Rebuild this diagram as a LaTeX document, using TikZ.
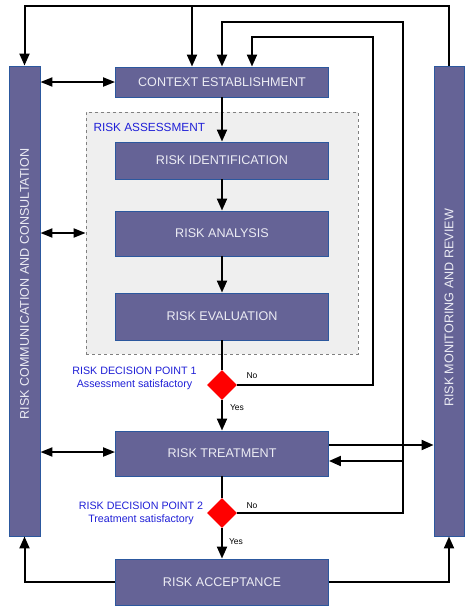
\documentclass[tikz,border=0pt]{standalone}
\usepackage{fontspec}
\setmainfont{Liberation Sans}
\usetikzlibrary{arrows.meta,shapes.geometric}
\definecolor{boxfill}{RGB}{101,99,150}
\definecolor{boxline}{RGB}{44,88,158}
\definecolor{boxtext}{RGB}{236,236,244}
\definecolor{lblue}{RGB}{32,32,215}
\definecolor{dashfill}{RGB}{239,239,239}
\definecolor{dashline}{RGB}{128,128,128}
\begin{document}
\begin{tikzpicture}[x=1pt,y=-1pt,
  box/.style={draw=boxline, fill=boxfill, line width=0.9pt, text=boxtext,
    font=\fontsize{12.6}{14}\selectfont, minimum width=213pt, inner sep=0pt},
  bar/.style={draw=boxline, fill=boxfill, line width=0.9pt, inner sep=0pt,
    minimum width=31pt, minimum height=470pt},
  bartext/.style={rotate=90, text=boxtext, font=\fontsize{12.6}{14}\selectfont},
  dec/.style={diamond, fill=red, draw=none, minimum width=30pt, minimum height=30pt, inner sep=0pt},
  lbl/.style={text=lblue, font=\fontsize{10.7}{12.5}\selectfont, align=center},
  small/.style={font=\fontsize{8.5}{10}\selectfont, text=black},
  ln/.style={line width=2pt},
  arr/.style={line width=2pt, -{Triangle[length=12pt,width=10pt]}},
  darr/.style={line width=2pt, {Triangle[length=12pt,width=9pt]}-{Triangle[length=12pt,width=9pt]}}
]
\useasboundingbox[fill=white] (0,0) rectangle (474,614);

% risk assessment dashed area
\node[draw=dashline, fill=dashfill, dashed, line width=0.8pt, minimum width=272pt, minimum height=242pt, inner sep=0pt] (ras) at (222,233) {};
\node[anchor=base west, text=lblue, font=\fontsize{11.8}{14}\selectfont] (rastext) at (90,131) {RISK ASSESSMENT};

% side bars
\node[bar] (lb) at (24.5,301) {};
\node[bartext] (lbt) at (24.5,284) {RISK COMMUNICATION AND CONSULTATION};
\node[bar, minimum width=30pt] (rb) at (449,301) {};
\node[bartext] (rbt) at (449,308) {RISK MONITORING AND REVIEW};

% process boxes
\node[box, minimum height=30pt] (ctx) at (222,82) {CONTEXT ESTABLISHMENT};
\node[box, minimum height=37pt] (rid) at (222,160.5) {RISK IDENTIFICATION};
\node[box, minimum height=45pt] (ran) at (222,233.5) {RISK ANALYSIS};
\node[box, minimum height=47pt] (rev) at (222,316.5) {RISK EVALUATION};
\node[box, minimum height=45pt] (rt) at (222,453.5) {RISK TREATMENT};
\node[box, minimum height=46pt] (ra) at (222,582) {RISK ACCEPTANCE};

% decision points
\node[dec] (d1) at (222,385) {};
\node[dec] (d2) at (222,513) {};
\node[lbl] (d1l) at (134.5,378.5) {RISK DECISION POINT 1\\Assessment satisfactory};
\node[lbl] (d2l) at (141,513.5) {RISK DECISION POINT 2\\Treatment satisfactory};
\node[small] (no1) at (252,376) {No};
\node[small] (yes1) at (237,408) {Yes};
\node[small] (no2) at (252,506) {No};
\node[small] (yes2) at (236,542) {Yes};

% helper coordinates
\coordinate (o2) at (24.5,6);
\coordinate (o3) at (192,6);
\coordinate (m1) at (403,22);
\coordinate (m2) at (222,22);
\coordinate (m3) at (403,461);
\coordinate (n1) at (373,37);
\coordinate (n2) at (252,37);
\coordinate (y445) at (0,445);
\coordinate (y452) at (0,452);

% main flow
\draw[arr] (ctx.south) -- (rid.north);
\draw[arr] (rid.south) -- (ran.north);
\draw[arr] (ran.south) -- (rev.north);
\draw[ln] (rev.south) -- (d1.north);
\draw[arr] (d1.south) -- (rt.north);
\draw[ln] (rt.south) -- (d2.north);
\draw[arr] (d2.south) -- (ra.north);

% outer loop from monitoring
\draw[arr] (rb.north) |- (o2) -- (lb.north);
\draw[arr] (o3) -- (ctx.north -| o3);

% decision point 1 loop
\draw[arr] (d1.east) -| (n1) -- (n2) -- (ctx.north -| n2);

% decision point 2 loop
\draw[arr, line width=2.4pt] (d2.east) -| (m1) -- (m2) -- (ctx.north -| m2);
\draw[arr] (m3) -- (rt.east |- m3);

% treatment to monitoring
\draw[arr] (rt.east |- y445) -- (rb.west |- y445);

% acceptance to bars
\draw[arr] (ra.west) -| (lb.south);
\draw[arr] (ra.east) -| (rb.south);

% communication double arrows
\draw[darr] (lb.east |- ctx.west) -- (ctx.west);
\draw[darr] (lb.east |- ras.west) -- (ras.west);
\draw[darr] (lb.east |- y452) -- (rt.west |- y452);
\end{tikzpicture}
\end{document}
